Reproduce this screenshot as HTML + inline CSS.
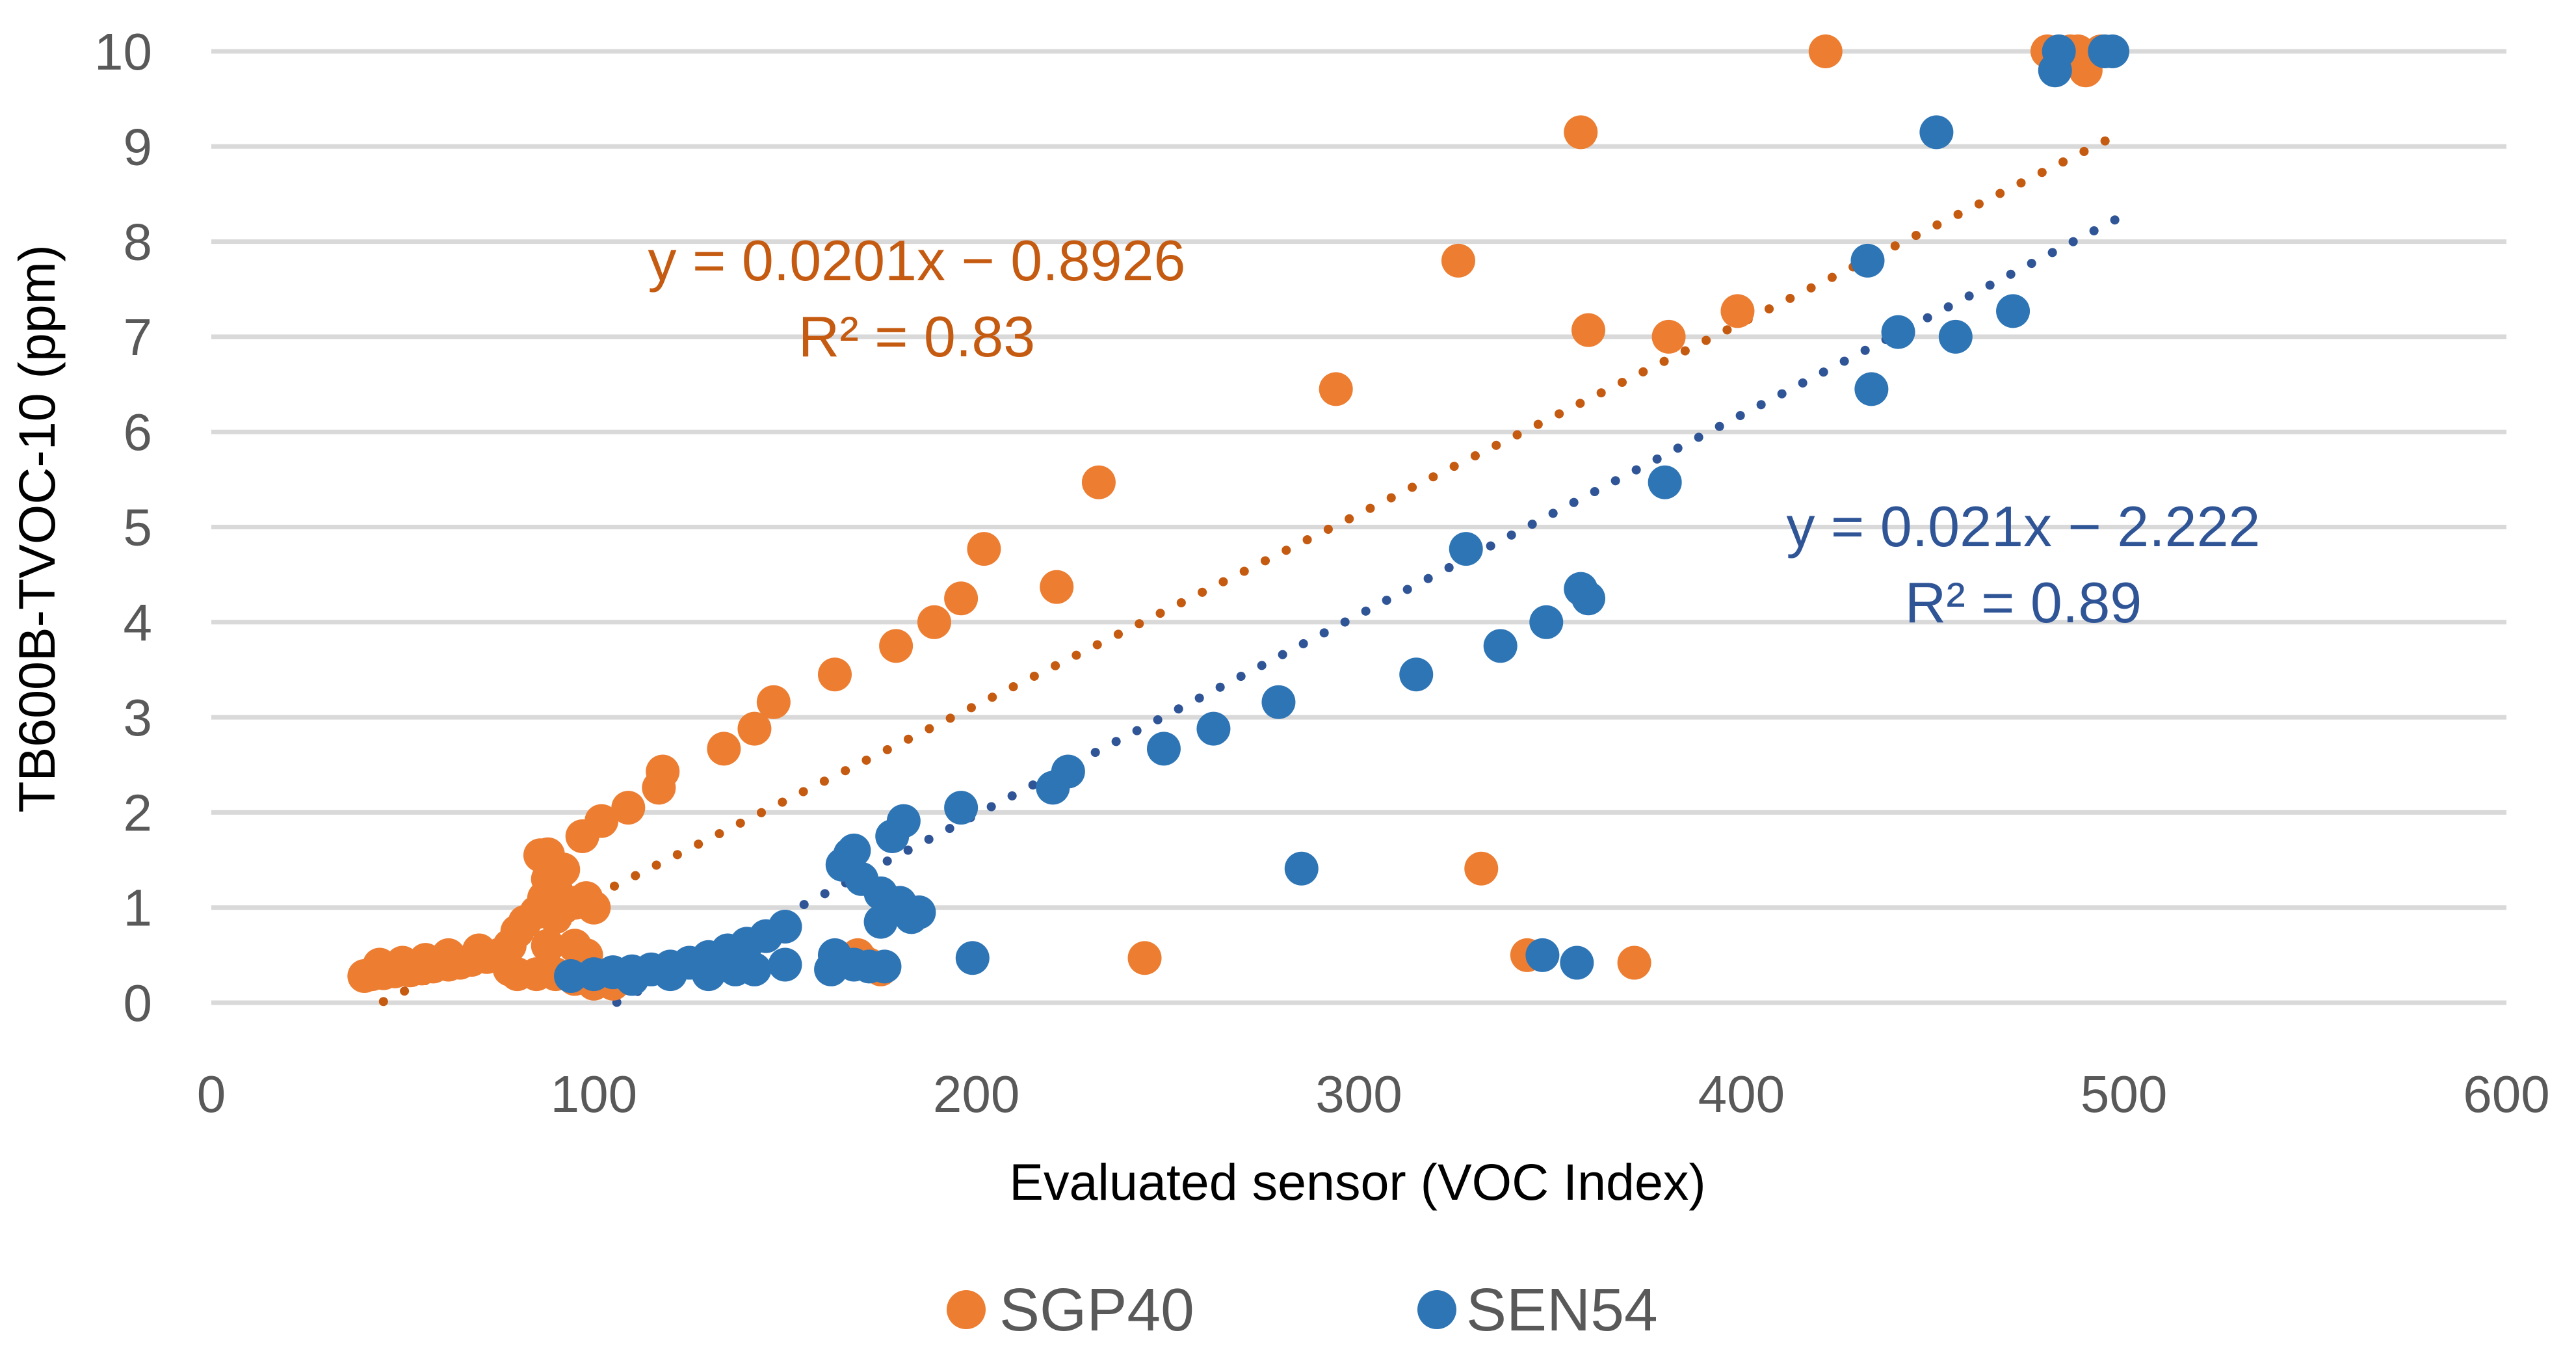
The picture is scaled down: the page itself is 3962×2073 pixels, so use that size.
<!DOCTYPE html>
<html><head><meta charset="utf-8"><style>
html,body{margin:0;padding:0;background:#fff;}
svg{display:block;font-family:"Liberation Sans",sans-serif;}
</style></head><body>
<svg id="chart" width="3962" height="2073" viewBox="0 0 3962 2073">
<g id="grid"></g><g id="ticks"></g><g id="trend"></g><g id="pts"></g><g id="labels"></g>
</svg>
<script>
const yTicks=[0,1,2,3,4,5,6,7,8,9,10];
const xTicks=[0,100,200,300,400,500,600];
const sgpX=[422,480,486,490,494,488,358,326,294,360,381,399,232,202,196,221,189,179,163,147,142,134,118,117,109,102,97,88,332,244,344,372,169,
40,42,45,48,52,55,58,62,65,68,72,75,78,80,82,85,87,88,90,92,95,98,100,90,85,80,90,95,100,98,105,170,175,172,92,86,88,78,95,44,50,56,62,70];
const sgpY=[10,10,10,9.8,10,10,9.15,7.8,6.45,7.07,7.0,7.27,5.47,4.77,4.25,4.37,4.0,3.75,3.45,3.16,2.88,2.67,2.43,2.26,2.05,1.91,1.75,1.56,1.41,0.47,0.5,0.42,0.5,
0.28,0.3,0.31,0.33,0.34,0.36,0.38,0.4,0.42,0.45,0.48,0.5,0.6,0.75,0.85,0.95,1.1,1.3,1.2,1.0,1.05,1.1,1.0,0.9,0.3,0.3,0.3,0.25,0.2,0.5,0.2,0.45,0.35,0.4,1.4,1.55,0.6,0.35,0.6,0.4,0.42,0.45,0.5,0.55];
const senX=[483,497,482,495,451,433,434,441,456,471,380,328,358,360,349,337,315,279,262,249,224,220,196,181,178,167,285,199,348,357,
94,100,105,110,115,120,125,130,135,140,145,150,137,130,150,162,163,165,168,170,175,180,185,175,183,168,172,176,110,120,142];
const senY=[10,10,9.8,10,9.15,7.8,6.45,7.05,7.0,7.27,5.47,4.77,4.35,4.25,4.0,3.75,3.45,3.16,2.88,2.67,2.43,2.26,2.05,1.91,1.75,1.56,1.41,0.47,0.5,0.42,
0.28,0.3,0.32,0.33,0.35,0.38,0.42,0.48,0.55,0.62,0.7,0.8,0.35,0.3,0.4,0.35,0.5,1.45,1.6,1.3,1.15,1.05,0.95,0.85,0.9,0.4,0.38,0.38,0.25,0.3,0.35];
const sgpFit=[0.0201,-0.8926], senFit=[0.021,-2.222];
const sgpRange=[45,500], senRange=[106,500];

const NS="http://www.w3.org/2000/svg";
const X0=325,X1=3855,Y0=1542,Y1=79;
function sx(v){return X0+(v-0)/(600-0)*(X1-X0);}
function sy(v){return Y0-(v-0)/(10-0)*(Y0-Y1);}
function mk(tag,attrs,parent,text){const e=document.createElementNS(NS,tag);for(const k in attrs)e.setAttribute(k,attrs[k]);if(text!==undefined)e.textContent=text;document.getElementById(parent).appendChild(e);return e;}

yTicks.forEach(t=>{
  const l=mk('line',{x1:X0,x2:X1,y1:sy(t),y2:sy(t),stroke:'#d9d9d9','stroke-width':7},'grid');
  
  
  const tx=mk('text',{x:234,y:sy(t)+28,'text-anchor':'end','font-size':80,fill:'#595959'},'ticks',String(t));
  
  
});
xTicks.forEach(t=>{
  const tx=mk('text',{x:sx(t),y:1710,'text-anchor':'middle','font-size':80,fill:'#595959'},'ticks',String(t));
  
  
});
function trend(fit,range,color,name){
  const x1=sx(range[0]),y1=sy(fit[0]*range[0]+fit[1]),x2=sx(range[1]),y2=sy(fit[0]*range[1]+fit[1]);
  const l=mk('line',{x1:x1,y1:y1,x2:x2,y2:y2,stroke:color,'stroke-width':14,'stroke-linecap':'round','stroke-dasharray':'0.1 36'},'trend');
  
  
}
function series(xs,ys,color,name){
  xs.forEach((x,i)=>{
    const c=mk('circle',{cx:sx(x),cy:sy(ys[i]),r:26,fill:color},'pts');
    
    
  });
}
series(sgpX,sgpY,'#ED7D31','sgp40-point');
series(senX,senY,'#2E75B6','sen54-point');
trend(sgpFit,sgpRange,'#C55A11','sgp40-trendline');
trend(senFit,senRange,'#2F5597','sen54-trendline');
</script>
<script>
(function(){
const NS="http://www.w3.org/2000/svg";const g=document.getElementById('labels');
function t(x,y,s,fs,fill,name,anchor,rot){const e=document.createElementNS(NS,'text');e.setAttribute('x',x);e.setAttribute('y',y);e.setAttribute('font-size',fs);e.setAttribute('fill',fill);e.setAttribute('text-anchor',anchor||'middle');if(rot)e.setAttribute('transform',rot);e.textContent=s;


g.appendChild(e);}
t(1410,431,'y = 0.0201x − 0.8926',88,'#C55A11','sgp40-equation');
t(1410,548,'R² = 0.83',88,'#C55A11','sgp40-r2');
t(3112,840,'y = 0.021x − 2.222',88,'#2F5597','sen54-equation');
t(3112,957,'R² = 0.89',88,'#2F5597','sen54-r2');
t(2088,1845,'Evaluated sensor (VOC Index)',79,'#000','x-axis-title');
t(0,0,'TB600B-TVOC-10 (ppm)',79,'#000','y-axis-title','middle','translate(84,813) rotate(-90)');
const c1=document.createElementNS(NS,'circle');c1.setAttribute('cx',1486);c1.setAttribute('cy',2014);c1.setAttribute('r',30);c1.setAttribute('fill','#ED7D31');


g.appendChild(c1);
const c2=document.createElementNS(NS,'circle');c2.setAttribute('cx',2210);c2.setAttribute('cy',2014);c2.setAttribute('r',30);c2.setAttribute('fill','#2E75B6');


g.appendChild(c2);
t(1537,2046,'SGP40',93,'#595959','legend-label-sgp40','start');
t(2255,2046,'SEN54',93,'#595959','legend-label-sen54','start');
})();
</script>
</body></html>
